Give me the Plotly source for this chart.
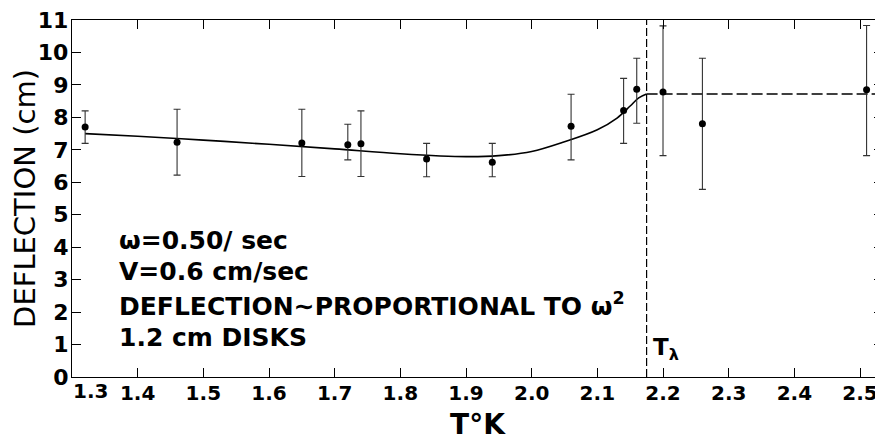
import plotly.graph_objects as go

# measured points
temp = [1.32, 1.46, 1.65, 1.72, 1.74, 1.84, 1.94, 2.06, 2.14, 2.16, 2.20, 2.26, 2.51]
defl = [7.70, 7.23, 7.21, 7.16, 7.19, 6.72, 6.62, 7.73, 8.21, 8.87, 8.78, 7.80, 8.85]
err_up = [0.50, 1.02, 1.04, 0.63, 1.01, 0.48, 0.58, 0.98, 0.99, 0.95, 2.04, 2.02, 1.98]
err_dn = [0.50, 1.01, 1.03, 0.47, 1.01, 0.55, 0.45, 1.04, 1.01, 1.05, 1.96, 2.02, 2.03]

# smooth curve below T_lambda
curve_t = [1.32, 1.40, 1.50, 1.60, 1.70, 1.80, 1.90, 1.95, 2.00, 2.05, 2.10, 2.13, 2.15, 2.163, 2.175]
curve_d = [7.50, 7.42, 7.30, 7.17, 7.03, 6.88, 6.79, 6.82, 6.95, 7.25, 7.62, 7.98, 8.35, 8.60, 8.72]

# above T_lambda (dashed)
t_lambda = 2.175
flat_t = [2.175, 2.54]
flat_d = [8.72, 8.72]

x_ticks = [1.3, 1.4, 1.5, 1.6, 1.7, 1.8, 1.9, 2.0, 2.1, 2.2, 2.3, 2.4, 2.5]
x_labels = ["", "1.4", "1.5", "1.6", "1.7", "1.8", "1.9", "2.0", "2.1", "2.2", "2.3", "2.4", "2.5"]
first_x_label = "1.3"
y_ticks = list(range(0, 12))

notes = ["ω=0.50/ sec", "V=0.6 cm/sec", "DEFLECTION∼PROPORTIONAL TO ω<sup>2</sup>", "1.2 cm DISKS"]
note_y = [4.22, 3.24, 2.22, 1.21]

FONT = "DejaVu Sans"

fig = go.Figure()
fig.add_trace(go.Scatter(x=curve_t, y=curve_d, mode="lines", line=dict(color="black", width=1.6, shape="spline"),
                         hoverinfo="skip", showlegend=False))
fig.add_trace(go.Scatter(x=flat_t, y=flat_d, mode="lines", line=dict(color="black", width=1.6, dash="11px,4px"),
                         showlegend=False))
fig.add_trace(go.Scatter(x=[t_lambda, t_lambda], y=[0, 11], mode="lines",
                         line=dict(color="black", width=1.2, dash="8px,3px"), showlegend=False))
fig.add_trace(go.Scatter(x=temp, y=defl, mode="markers",
                         marker=dict(color="black", size=7),
                         error_y=dict(type="data", symmetric=False, array=err_up, arrayminus=err_dn,
                                      color="#333", thickness=1.1, width=3.5),
                         showlegend=False))

for txt, yy in zip(notes, note_y):
    fig.add_annotation(x=1.368, y=yy, xref="x", yref="y", text=txt, showarrow=False, xanchor="left",
                       yanchor="middle", font=dict(family=FONT, size=25, color="black", weight="bold"))
fig.add_annotation(x=t_lambda + 0.006, y=0.85, xref="x", yref="y",
                   text="T<sub>λ</sub>", showarrow=False,
                   xanchor="left", yanchor="middle", font=dict(family=FONT, size=23, color="black", weight="bold"))
# first x tick label sits to the right of the corner, as in the reference
fig.add_annotation(x=x_ticks[0], y=0, xref="x", yref="y", text=first_x_label, showarrow=False,
                   xanchor="left", yanchor="top", yshift=0, xshift=-1,
                   font=dict(family=FONT, size=20, color="black", weight="bold"))

# the page body adds an 8px offset; the figure is sized so the plot area lands on the reference pixels
fig.update_layout(
    width=875, height=433,
    margin=dict(l=64, r=0, t=12, b=64),
    plot_bgcolor="white", paper_bgcolor="white",
    font=dict(family=FONT, color="black"),
)
fig.update_xaxes(range=[1.3, 2.535], tickvals=x_ticks, ticktext=x_labels, ticks="inside", ticklen=9,
                 tickwidth=1, tickcolor="black", showline=True, linecolor="black", linewidth=1.3,
                 mirror="ticks", showgrid=False, zeroline=False, automargin=False, ticklabelstandoff=-2,
                 ticklabeloverflow="allow",
                 tickfont=dict(family=FONT, size=20, weight="bold"),
                 title=dict(text="T°K", font=dict(family=FONT, size=28, weight="bold"), standoff=12))
fig.update_yaxes(range=[0, 11.0001], tickvals=y_ticks, ticks="inside", ticklen=9, tickwidth=1, tickcolor="black",
                 showline=True, linecolor="black", linewidth=1.3, mirror="ticks", showgrid=False, zeroline=False,
                 automargin=False, ticklabelstandoff=-2, ticklabeloverflow="allow",
                 tickfont=dict(family=FONT, size=22, weight="bold"),
                 title=dict(text="DEFLECTION (cm)", font=dict(family=FONT, size=29), standoff=0))

fig.write_html("out.html")
